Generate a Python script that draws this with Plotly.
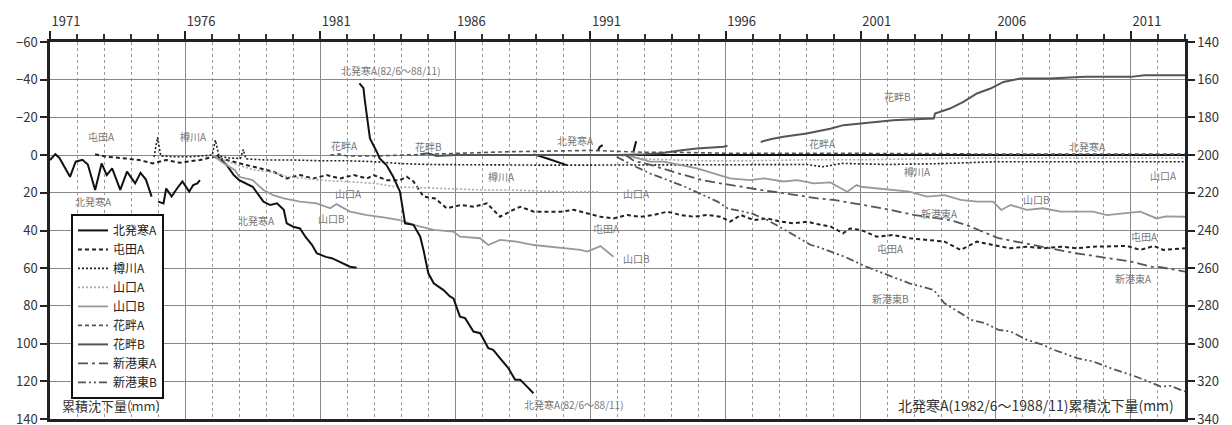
import plotly.graph_objects as go

# ---------------- data ----------------
# 北発寒A (left axis) – several measurement periods separated by None
kita_x = [1971.0, 1971.2, 1971.35, 1971.55, 1971.74, 1971.95, 1972.2, 1972.4, 1972.67, 1972.91,
          1973.1, 1973.3, 1973.6, 1973.85, 1974.15, 1974.35, 1974.55, 1974.76, None,
          1975.0, 1975.2, 1975.3, 1975.5, 1975.7, 1975.9, 1976.15, 1976.3, 1976.45, 1976.55, None,
          1977.17, 1977.54, 1977.8, 1978.0, 1978.5, 1978.9, 1979.15, 1979.4, 1979.65, 1979.76,
          1980.0, 1980.25, 1980.45, 1980.7, 1980.87, 1981.2, 1981.43, 1981.86, 1982.1, 1982.35, None,
          1988.9, 1989.0, 1989.4, 1989.75, 1990.12, None,
          1991.28, 1991.35, 1991.45, None,
          1992.59, 1992.69, None,
          1992.7, 1996.0, 2000.0, 2004.0, 2008.0, 2013.0]
kita_y = [2.6, -0.5, 1.5, 7, 11.5, 3.5, 2.5, 5, 18.5, 4.4,
          10.6, 7, 18.5, 8.8, 15, 9.4, 13, 22, None,
          24.7, 25.6, 17.7, 22, 17.7, 14, 19.4, 15.9, 15, 13.3, None,
          0, 5.3, 10.6, 13.3, 16.8, 24.7, 26.5, 25.6, 29, 36.2,
          38, 38.9, 43.3, 47.7, 52, 54, 54.7, 57.4, 59.2, 59.7, None,
          -0.3, 0, 1.8, 3.5, 5.3, None,
          -2.6, -4.4, -5.3, None,
          -1.8, -7.4, None,
          0, 0, 0, 0, 0, 0]

# 北発寒A 1982/6〜1988/11 (right axis)
kita2_x = [1982.45, 1982.6, 1982.65, 1982.74, 1982.84, 1983.09, 1983.2, 1983.45, 1983.7, 1983.95,
           1984.14, 1984.45, 1984.7, 1984.82, 1985.0, 1985.2, 1985.55, 1985.8, 1985.93, 1986.17,
           1986.36, 1986.67, 1986.92, 1987.22, 1987.4, 1987.65, 1987.96, 1988.21, 1988.4, 1988.59, 1988.89]
kita2_y = [162, 164.5, 171, 179.7, 191.2, 198.2, 201.8, 205.3, 211.5, 219.4,
           236.2, 237, 243.3, 250.3, 262.7, 268, 271.5, 275, 276, 285.7,
           286.5, 293.6, 294.5, 302.4, 303.3, 307.7, 313, 319.2, 319.2, 321.9, 326.3]

# 屯田A
tonden_x = [1972.67, 1973.1, 1973.8, 1974.3, 1974.8, 1975.3, 1975.8, 1976.55, 1977.05, 1977.8,
            1978.5, 1979.26, 1979.76, 1980.26, 1980.74, 1981.24, 1981.74, 1982.24, 1982.73, 1982.97,
            1983.47, 1983.95, 1984.2, 1984.45, 1984.82, 1985.25, 1985.68, 1986.2, 1986.68, 1987.17,
            1987.4, 1987.65, 1988.15, 1988.4, 1988.9, 1989.4, 1989.9, 1990.38, 1990.88, 1991.37,
            1991.85, 1992.36, 1992.85, 1993.34, 1993.84, 1994.33, 1994.82, 1995.32, 1995.81, 1996.17,
            1996.56, 1997.05, 1997.54, 1998.04, 1998.53, 1999.02, 1999.52, 1999.9, 2000.35, 2000.6,
            2001.0, 2001.6, 2002.2, 2002.8, 2003.45, 2004.1, 2004.7, 2005.3, 2005.9, 2006.5,
            2007.15, 2007.75, 2008.4, 2009.0, 2009.6, 2010.25, 2010.85, 2011.35, 2011.85, 2012.2, 2013.0]
tonden_y = [-0.4, 0.9, 1.8, 2.6, 4.4, 2.6, 4, 2.6, 0.9, 3.5,
            6.2, 8.8, 12.4, 10.6, 12.4, 10.6, 12.4, 10.6, 12.4, 10.6,
            13.3, 13.3, 11.5, 14, 22, 23, 28.2, 26.5, 27.4, 25.6,
            29, 32.7, 29, 27.4, 30, 30, 30, 29, 31, 32.7,
            33.6, 31.8, 32.7, 31.8, 30, 31.8, 32.7, 31.8, 32.7, 35.3,
            31.8, 34.5, 33.6, 35.3, 36.2, 35.3, 37, 38, 41.5, 38.9,
            39.7, 43.3, 42.4, 44.1, 45, 45.9, 50.3, 45.9, 47.7, 49.4,
            48.6, 49.4, 48.6, 49.4, 48.6, 48.2, 48.2, 50.3, 48.2, 50.3, 49.4]

# 樽川A
tarukawa_x = [1974.85, 1974.98, 1975.1, 1975.6, 1976.2, 1977.0, 1977.12, 1977.25, 1977.6, 1978.05,
              1978.15, 1978.25, 1979.0, 1980.0, 1981.0, 1982.0, 1983.0, 1984.0, 1985.0, 1987.0,
              1989.0, 1991.0, 1993.0, 1995.0, 1997.0, 1999.0, 1999.6, 2000.3, 2002.0, 2004.0,
              2006.0, 2008.0, 2010.0, 2013.0]
tarukawa_y = [1, -9.5, 0.5, 0.9, 0.9, 0, -8, 0.5, 1.5, 1.8,
              -3, 2, 2.6, 2.6, 3, 3, 3.5, 4.5, 5, 5.3,
              5.3, 5.3, 5.3, 5.3, 5.3, 5, 6.2, 4.4, 5, 4.5,
              3.5, 3.5, 3.5, 3.5]

# 山口A
yamaA_x = [1977.0, 1977.5, 1978.0, 1978.6, 1979.2, 1979.8, 1980.5, 1981.2, 1982.0, 1983.0,
           1983.8, 1985.0, 1986.0, 1987.0, 1988.0, 1989.0, 1990.0, 1991.3, None,
           1992.0, 1993.0, 1995.0, 1997.0, 1999.0, 2001.0, 2003.0, 2005.0, 2007.0, 2009.0, 2011.0, 2013.0]
yamaA_y = [0, 3, 5.5, 8, 9, 11.5, 12.5, 13.5, 14, 15,
           16.8, 17.5, 18, 18.5, 18.5, 19, 19.5, 19.5, None,
           0, 2, 3, 3, 2.5, 2.5, 2, 1.5, 1.5, 1.5, 1.5, 1.5]

# 山口B
yamaB_x = [1977.0, 1977.4, 1977.85, 1978.0, 1978.5, 1978.9, 1979.26, 1979.65, 1980.25, 1980.87,
           1981.37, 1981.6, 1982.1, 1982.73, 1983.34, 1983.95, 1984.45, 1984.7, 1985.2, 1985.93,
           1986.17, 1986.92, 1987.22, 1987.65, 1988.27, 1988.9, 1989.52, 1990.12, 1990.63, 1990.88,
           1991.37, 1991.85, None,
           1992.35, 1993.2, 1993.7, 1994.3, 1994.95, 1995.55, 1996.17, 1996.9, 1997.42, 1998.14,
           1998.65, 1999.27, 1999.87, 2000.5, 2000.85, 2001.0, 2001.6, 2002.2, 2002.8, 2003.45,
           2004.1, 2004.7, 2005.3, 2005.9, 2006.2, 2006.55, 2007.15, 2007.75, 2008.4, 2009.0,
           2009.6, 2010.1, 2010.85, 2011.35, 2011.95, 2012.3, 2013.0]
yamaB_y = [0, 4, 8, 11.5, 13.3, 18.5, 21.2, 23, 24.7, 25.6,
           28.2, 26, 30, 31.8, 33, 34.5, 37, 38, 39.7, 40.6,
           43.3, 44.1, 47.7, 45, 45.9, 47.7, 48.6, 49.4, 50.3, 51.2,
           48.3, 53.9, None,
           0, 3.5, 3.5, 5.3, 7, 9.7, 12.4, 13.3, 12.4, 14,
           13.3, 15, 14.5, 19.4, 15.9, 16.8, 17.7, 18.5, 19.4, 22,
           21.2, 23.8, 24.7, 24.7, 29.1, 26.5, 29.1, 28.2, 30, 30,
           30, 31.8, 30.9, 30, 33.6, 32.5, 32.7]

# 花畔A
banA_x = [1981.37, 1981.7, 1982.0, 1983.0, 1984.0, 1985.0, 1986.0, 1987.0, 1988.0, 1989.0,
          1990.0, 1991.0, 1992.0, 1993.0, 1994.0, 1995.0, 1996.0, 1998.0, 2000.0, 2002.0,
          2004.0, 2006.0, 2008.0, 2010.0, 2013.0]
banA_y = [0, -0.5, 0.5, 0.5, 0, -0.5, -1, -1.5, -1.8, -2,
          -2.2, -2.5, -2, -1.5, -1.5, -1.2, -1, -1, -1, -1,
          -0.8, -0.5, -0.5, -0.5, -0.5]

# 花畔B
banB_x = [1984.7, 1985.0, 1985.3, 1986.0, 1988.0, 1990.0, 1992.0, 1993.0, 1993.6, 1994.3,
          1994.93, 1995.5, 1995.92, 1996.07, None,
          1997.3, 1997.7, 1998.14, 1999.0, 1999.87, 2000.36, 2001.0, 2002.2, 2003.0, 2003.7,
          2003.75, 2004.3, 2004.8, 2005.3, 2005.8, 2006.28, 2006.9, 2008.0, 2009.3, 2011.0,
          2011.5, 2013.0]
banB_y = [-0.4, -1, 0.5, 0, 0, 0, 0, -0.5, -1, -2.5,
          -3.5, -4, -4.4, -5, None,
          -7, -8.5, -9.7, -11.5, -14, -15.9, -16.8, -18.5, -19, -19.4,
          -22, -24.7, -28.2, -32.7, -35.3, -38.8, -40.6, -40.6, -41.5, -41.5,
          -42.4, -42.4]

# 新港東A
shinA_x = [1992.3, 1992.6, 1993.3, 1994.2, 1995.2, 1996.2, 1997.3, 1998.3, 1999.4, 2000.0,
           2001.2, 2001.8, 2003.0, 2004.3, 2004.9, 2005.5, 2006.1, 2007.4, 2008.6, 2009.8,
           2011.0, 2011.75, 2012.1, 2013.0]
shinA_y = [0, 3, 5.5, 9.5, 13.5, 16, 18.5, 20.5, 23, 23.8,
           26.5, 28.2, 31.8, 34.5, 37, 40.6, 44.1, 47.7, 51.2, 53.9,
           56.5, 59.2, 59.5, 61.8]

# 新港東B
shinB_x = [1991.97, 1992.5, 1993.2, 1994.5, 1995.7, 1996.07, 1996.95, 1997.55, 1998.2, 1998.8,
           1999.15, 1999.4, 2000.4, 2001.2, 2002.2, 2002.8, 2003.7, 2004.1, 2005.1, 2005.6,
           2006.1, 2006.55, 2007.15, 2007.75, 2008.15, 2009.0, 2009.6, 2010.25, 2011.0, 2011.5,
           2012.1, 2012.45, 2013.0]
shinB_y = [0.9, 5, 9.7, 16.8, 24.7, 28.2, 30.9, 34.5, 39.7, 45,
           47.7, 48.6, 53.9, 59.2, 64.5, 68, 71.5, 78.6, 87.4, 89.2,
           92.7, 93.6, 98, 100.7, 103.3, 107.7, 109.5, 113, 116.6, 119.2,
           122.8, 122.4, 125.4]

# in-plot series labels: (text, year, value)
label_text = ["屯田A", "樽川A", "北発寒A", "北発寒A", "山口B", "山口A", "花畔A", "花畔B",
              "北発寒A(82/6〜88/11)", "北発寒A(82/6〜88/11)", "樽川A", "北発寒A", "山口A", "屯田A",
              "山口B", "花畔B", "花畔A", "北発寒A", "樽川A", "山口A", "山口B", "新港東A", "屯田A",
              "屯田A", "新港東A", "新港東B"]
label_x = [1972.9, 1976.3, 1972.6, 1978.65, 1981.4, 1982.05, 1981.9, 1985.0,
           1983.6, 1990.4, 1987.7, 1990.45, 1992.7, 1991.6,
           1992.7, 2002.35, 1999.6, 2009.4, 2003.1, 2012.2, 2007.5, 2003.9, 2002.1,
           2011.5, 2011.1, 2002.1]
label_y = [-9.7, -9.7, 24.7, 34.5, 33.6, 20.3, -5.3, -4.4,
           -45, 132.5, 11.5, -7.9, 20.3, 38.9,
           54.7, -30.9, -6.2, -4.4, 8.8, 10.6, 23.8, 30.9, 49.4,
           43.3, 65.4, 76]

year_labels = [1971, 1976, 1981, 1986, 1991, 1996, 2001, 2006, 2011]

# ---------------- figure ----------------
FONT = "Noto Sans CJK JP, Liberation Sans, sans-serif"
fig = go.Figure()

def add(x, y, name, color, width, dash, show=True, yaxis="y"):
    fig.add_trace(go.Scatter(x=x, y=y, name=name, mode="lines", yaxis=yaxis,
                             line=dict(color=color, width=width, dash=dash),
                             connectgaps=False, showlegend=show, hoverinfo="skip"))

add(kita_x, kita_y, "北発寒A", "#111111", 2.0, "solid")
add(tonden_x, tonden_y, "屯田A", "#222222", 2.0, "4px,3px")
add(tarukawa_x, tarukawa_y, "樽川A", "#222222", 1.6, "2px,2px")
add(yamaA_x, yamaA_y, "山口A", "#aaaaaa", 1.6, "2px,2px")
add(yamaB_x, yamaB_y, "山口B", "#999999", 1.8, "solid")
add(banA_x, banA_y, "花畔A", "#555555", 1.6, "4px,3px")
add(banB_x, banB_y, "花畔B", "#555555", 2.0, "solid")
add(shinA_x, shinA_y, "新港東A", "#555555", 1.8, "10px,4px,3px,4px")
add(shinB_x, shinB_y, "新港東B", "#555555", 1.8, "8px,3px,2px,3px,2px,3px")
add(kita2_x, kita2_y, "北発寒A(82/6〜88/11)", "#111111", 2.0, "solid", show=False, yaxis="y2")

for t, lx, ly in zip(label_text, label_x, label_y):
    fig.add_annotation(x=lx, y=ly, xref="x", yref="y", text=t, showarrow=False,
                       font=dict(family=FONT, size=10, color="#777777"))

fig.add_annotation(x=0.009, y=0.005, xref="paper", yref="paper", xanchor="left", yanchor="bottom",
                   text="累積沈下量(mm)", showarrow=False,
                   font=dict(family=FONT, size=13, color="#333333"))
fig.add_annotation(x=0.992, y=0.005, xref="paper", yref="paper", xanchor="right", yanchor="bottom",
                   text="北発寒A(1982/6〜1988/11)累積沈下量(mm)", showarrow=False,
                   font=dict(family=FONT, size=14, color="#333333"))

fig.update_layout(
    width=1232, height=425,
    margin=dict(l=50, r=47, t=42, b=6, autoexpand=False),
    paper_bgcolor="white", plot_bgcolor="white",
    font=dict(family=FONT, size=13, color="#222222"),
    xaxis=dict(range=[1971, 2013], side="top", tickmode="array", automargin=False,
               tickvals=year_labels, ticktext=[str(v) for v in year_labels],
               ticklabelshift=16, ticklabeloverflow="allow",
               ticks="outside", ticklen=8, tickwidth=2, tickcolor="#222222",
               showgrid=True, gridcolor="#888888", gridwidth=1,
               showline=True, mirror=True, linecolor="#222222", linewidth=2.5,
               zeroline=False,
               minor=dict(dtick=1, tick0=1971, ticks="outside", ticklen=5, tickcolor="#333333",
                          showgrid=True, gridcolor="#999999", griddash="dot", gridwidth=1),
               tickfont=dict(family=FONT, size=13, color="#333333")),
    yaxis=dict(range=[140, -60], tickmode="linear", tick0=-60, dtick=20, automargin=False,
               ticklabeloverflow="allow",
               ticks="outside", ticklen=7, tickwidth=2, tickcolor="#222222",
               showgrid=True, gridcolor="#888888", gridwidth=1,
               showline=True, mirror=True, linecolor="#222222", linewidth=2.5,
               zeroline=False, tickfont=dict(family=FONT, size=13, color="#333333")),
    yaxis2=dict(range=[340, 140], overlaying="y", side="right", tickmode="linear", tick0=140, dtick=20,
                automargin=False, ticklabeloverflow="allow",
                ticks="outside", ticklen=7, tickwidth=2, tickcolor="#222222",
                showgrid=False, showline=True, linecolor="#222222", linewidth=2.5,
                zeroline=False, tickfont=dict(family=FONT, size=13, color="#333333")),
    legend=dict(x=0.0185, y=0.544, xanchor="left", yanchor="top",
                bgcolor="white", bordercolor="#111111", borderwidth=2,
                font=dict(family=FONT, size=12, color="#222222"),
                tracegroupgap=0, itemwidth=30),
    showlegend=True,
)

fig.write_html("out.html", config={"displayModeBar": False},
               post_script="document.body.style.margin='0';document.body.style.overflow='hidden';")
